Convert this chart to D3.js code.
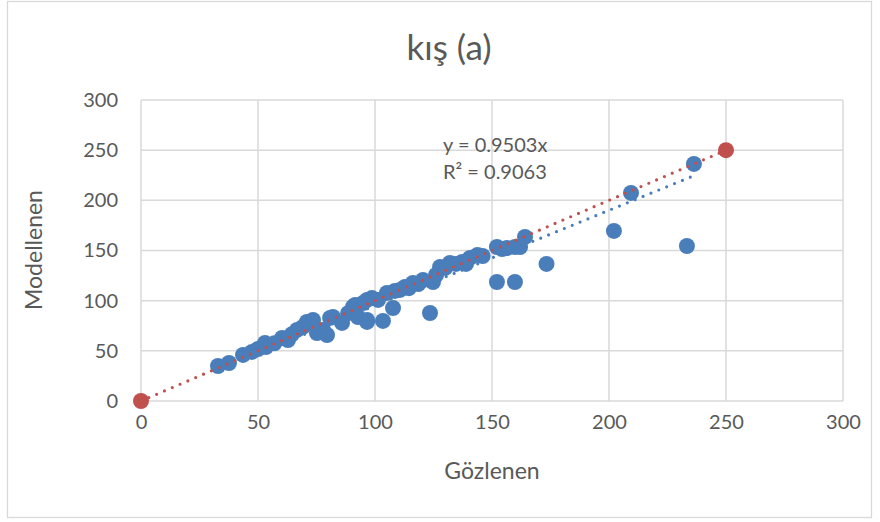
<!DOCTYPE html>
<html><head><meta charset="utf-8">
<script src="https://cdn.jsdelivr.net/npm/d3@7"></script>
<style>body{margin:0;background:#fff}svg{display:block}</style>
</head><body>
<script>
// Observed (Gözlenen) vs modelled (Modellenen)
const obsX = [32.9,37.6,43.6,47.4,50,53,53.4,57,60.3,62.8,64.5,66.7,69.2,70.9,72.2,73.5,75.2,77.8,79.5,80.8,82,85.9,88.5,90.6,91.5,92.7,94.9,96.6,96.6,96.6,98.7,101.3,103.4,105.1,107.7,108.5,110.7,112.8,114.5,116.2,118.5,120.5,123.5,124.8,126.1,127.8,130,132,134.6,137.2,138.9,140.6,143.8,146,152.1,152.1,154.3,156.4,159.8,159.8,162,164.1,173.3,202.1,209.4,233.3,236.3];
const modY = [34.9,37.9,45.9,48.9,51.8,57.8,53.8,57.5,62.8,60.8,66.5,70.8,73.8,78.8,77.8,80.8,67.8,70.8,65.8,82.8,83.7,77.8,87.5,93.7,95.7,83.7,97.7,100.7,80.8,78.8,102.7,100.7,79.8,107.7,92.7,109.7,110.7,113.7,112.5,117.6,116.5,120.6,87.7,118.6,125.6,133.6,132.6,137.6,136.6,138.6,136.6,142.6,145.5,144.5,153.5,118.6,151.5,152.5,118.6,153.5,153.5,163.5,136.6,169.5,207.4,154.5,236.3];
const refX = [0,250];
const refY = [0,250];
const trendSlope = 0.9503;
const eqLabels = ["y = 0.9503x","R² = 0.9063"];
const xTicks = [0,50,100,150,200,250,300];
const yTicks = [0,50,100,150,200,250,300];
const title = "kış (a)";
const xTitle = "Gözlenen";
const yTitle = "Modellenen";

const W=880,H=522;
const svg=d3.select("body").append("svg").attr("width",W).attr("height",H);
const font="Lato, 'Noto Sans', sans-serif";
const txt="#595959";
svg.append("rect").attr("x",7.5).attr("y",1.5).attr("width",864).attr("height",516)
  .attr("fill","#fff").attr("stroke","#d9d9d9").attr("stroke-width",1.3);

const x=d3.scaleLinear().domain([0,300]).range([141,843]);
const y=d3.scaleLinear().domain([0,300]).range([401,100]);

const g=svg.append("g");
g.selectAll(".gx").data(xTicks).join("line")
  .attr("x1",d=>x(d)).attr("x2",d=>x(d)).attr("y1",y(0)).attr("y2",y(300))
  .attr("stroke","#d9d9d9").attr("stroke-width",1.5);
g.selectAll(".gy").data(yTicks).join("line")
  .attr("y1",d=>y(d)).attr("y2",d=>y(d)).attr("x1",x(0)).attr("x2",x(300))
  .attr("stroke","#d9d9d9").attr("stroke-width",1.5);

const xa=svg.append("g").attr("transform",`translate(0,${y(0)})`)
  .call(d3.axisBottom(x).tickValues(xTicks).tickSize(0).tickPadding(14));
const ya=svg.append("g").attr("transform",`translate(${x(0)},0)`)
  .call(d3.axisLeft(y).tickValues(yTicks).tickSize(0).tickPadding(23));
[xa,ya].forEach(a=>{a.select(".domain").remove();
  a.selectAll("text").attr("font-family",font).attr("font-size",20).attr("fill",txt);});

const blue="#4a7ebb", red="#c0504d";
svg.append("g").selectAll("circle").data(obsX.map((v,i)=>[v,modY[i]])).join("circle")
  .attr("cx",d=>x(d[0])).attr("cy",d=>y(d[1])).attr("r",8).attr("fill",blue);
svg.append("g").selectAll("circle").data(refX.map((v,i)=>[v,refY[i]])).join("circle")
  .attr("cx",d=>x(d[0])).attr("cy",d=>y(d[1])).attr("r",8).attr("fill",red);

const xmin=d3.min(obsX), xmax=d3.max(obsX);
svg.append("line").attr("x1",x(xmin)).attr("y1",y(trendSlope*xmin)).attr("x2",x(xmax)).attr("y2",y(trendSlope*xmax))
  .attr("stroke",blue).attr("stroke-width",3.2).attr("stroke-linecap","round").attr("stroke-dasharray","0,8.5");
svg.append("line").attr("x1",x(refX[0])).attr("y1",y(refY[0])).attr("x2",x(refX[1])).attr("y2",y(refY[1]))
  .attr("stroke",red).attr("stroke-width",3.2).attr("stroke-linecap","round").attr("stroke-dasharray","0,8.5");

svg.append("g").selectAll("text").data(eqLabels).join("text")
  .attr("x",443).attr("y",(d,i)=>152+i*27).text(d=>d)
  .attr("font-family",font).attr("font-size",20).attr("fill",txt);

svg.append("text").attr("x",449).attr("y",60).attr("text-anchor","middle").text(title)
  .attr("font-family",font).attr("font-size",35).attr("fill",txt);
svg.append("text").attr("x",492).attr("y",479).attr("text-anchor","middle").text(xTitle)
  .attr("font-family",font).attr("font-size",23).attr("fill",txt);
svg.append("text").attr("transform","translate(42,250) rotate(-90)").attr("text-anchor","middle").text(yTitle)
  .attr("font-family",font).attr("font-size",23).attr("fill",txt);
</script>
</body></html>
